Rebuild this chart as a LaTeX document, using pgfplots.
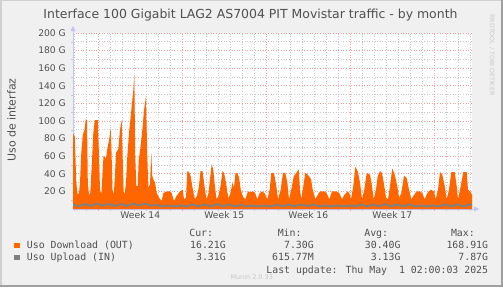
\documentclass[border=0pt]{standalone}
\usepackage{pgfplots}
\pgfplotsset{compat=1.18}
\usepackage{fontspec}
\setmainfont{DejaVu Sans}
\newfontfamily\monofont{DejaVu Sans Mono}
\usetikzlibrary{arrows.meta}
\definecolor{bgc}{HTML}{F0F0F0}
\definecolor{txt}{HTML}{505050}
\definecolor{dl}{HTML}{FF6600}
\definecolor{ul}{HTML}{808080}
\definecolor{gridgrey}{HTML}{C8C8C8}
\definecolor{gridred}{HTML}{F4A0A0}
\definecolor{axisblue}{HTML}{C4C4F4}
\definecolor{faint}{HTML}{C8C8C8}
\definecolor{bordl}{HTML}{D0D0D0}
\definecolor{bordd}{HTML}{A0A0A0}

\begin{document}
\begin{tikzpicture}[x=1bp,y=1bp]
\fill[bgc] (0,0) rectangle (503,287);
\fill[bordl] (0,0) rectangle (1.5,287);
\fill[bordl] (0,285.5) rectangle (503,287);
\fill[bordd] (501,0) rectangle (503,287);
\fill[bordd] (0,0) rectangle (503,2);

\begin{axis}[
  at={(73bp,78bp)}, anchor=south west,
  width=399bp, height=176bp, scale only axis,
  xmin=73, xmax=472, ymin=0, ymax=200,
  axis background/.style={fill=white},
  axis x line*=bottom, axis y line*=left,
  x axis line style={axisblue, line width=0.8bp, -{Triangle[length=5bp,width=5bp]}, shorten >=-7bp},
  y axis line style={axisblue, line width=0.8bp, -{Triangle[length=5bp,width=5bp]}, shorten >=-7bp},
  xtick={140.3,224.3,308.3,392.3},
  xticklabels={Week 14,Week 15,Week 16,Week 17},
  extra x ticks={98.3,182.3,266.3,350.3,434.3},
  extra x tick labels={},
  extra x tick style={xmajorgrids=true, major tick length=2bp, major tick style={gridred}},
  minor xtick={74.3,86.3,110.3,122.3,134.3,146.3,158.3,170.3,194.3,206.3,218.3,230.3,242.3,254.3,278.3,290.3,302.3,314.3,326.3,338.3,362.3,374.3,386.3,398.3,410.3,422.3,446.3,458.3,470.3},
  ytick={20,40,...,200},
  yticklabels={20 G,40 G,60 G,80 G,100 G,120 G,140 G,160 G,180 G,200 G},
  minor ytick={10,30,...,190},
  xmajorgrids=false, xminorgrids=true, ymajorgrids=true, yminorgrids=true,
  major grid style={gridred, dash pattern=on 1bp off 1.6bp, line width=0.7bp},
  minor grid style={gridgrey, dash pattern=on 1bp off 1.6bp, line width=0.7bp},
  tick align=outside,
  major tick length=0bp, minor tick length=2bp,
  minor tick style={gridgrey},
  tick label style={font=\fontsize{9.2}{10}\selectfont, text=txt},
  yticklabel style={anchor=east, inner sep=0pt, xshift=-7bp},
  xticklabel style={anchor=north, inner sep=0pt, yshift=-2.5bp},
]
\addplot[fill=dl, draw=none] coordinates {
(73,86) (74.8,82) (76.3,30) (77.5,17) (79,18) (80,30) (81.2,62) (82.8,84) (84.5,90) (85.8,102) (87,101) (87.8,30) (89,16)
(90.3,18) (91.8,50) (93.3,86) (94.8,101) (97.8,101) (99,60) (100,22) (101.3,16)
(102.5,40) (103.5,60) (106,58) (107.3,68) (109.3,80) (110.7,92) (111.6,62) (112.5,22) (113.8,16)
(115,40) (116,64) (118.3,68) (120,90) (121.7,101) (122.6,62) (123.6,20) (124.6,16)
(126,30) (127.3,60) (129.3,90) (130.7,105) (132,120) (133.3,135) (134.3,152) (135.2,62) (136.3,26) (137.7,26)
(138.7,55) (140.7,72) (142.7,94) (144,112) (146,128) (147.2,62) (148.4,24) (150,28)
(151.3,64) (152.2,38) (153.3,34) (155,30) (156.7,18) (159.3,12.5) (161.7,9) (163.3,18) (166.7,20) (170,20) (171.7,18) (174,9) (176.7,15) (180,20) (182.7,22)
(184,11) (186,13) (187.3,43) (189,42) (190.5,38) (192,28) (193.5,18) (195,11) (197,15) (199,26) (200.5,43) (202.5,43) (204,30) (205.5,18) (206.5,11)
(208.5,18) (210,34) (211.7,51) (213.3,44) (214.5,30) (216.5,11) (218.5,15) (220.5,26) (222.5,43) (224,41) (226,30) (227.5,18) (228.5,12)
(230.5,18) (232.5,30) (234,24) (235.5,41) (237.5,40) (239,36) (240.7,22) (243,14) (245.3,11) (248,20) (250.7,19) (253,20) (255.3,18) (257.3,11)
(259.7,18) (262,20) (264.7,18) (267.3,11)
(269.7,22) (271.3,41) (274,41) (276.3,26) (278,11) (280.7,22) (283,41) (285.3,41) (287.3,30) (289,11) (291.3,22) (293.7,37) (296.3,41) (298.7,45) (300,22) (301.3,11)
(303.3,26) (305.3,41) (307.7,39) (311,34) (312.7,22) (315.3,11) (317.7,16) (320,20) (324.3,20) (326.7,18) (329.3,11) (332,20) (336,20) (339.3,18) (342,11) (344.3,16) (347.7,20) (349.3,18) (351,11)
(353.3,26) (355.3,48) (357.7,43) (360,30) (362,11) (364.3,22) (366.7,41) (370,39) (372,26) (373.7,11) (376,22) (377.7,37) (380,43) (382,41) (384.3,26) (386,13) (388,11)
(390,26) (392.3,46) (394.7,39) (397.3,26) (399,12.5) (401.3,18) (404,38) (406.7,35) (409,22) (411.3,11) (414,16) (416.7,20) (420,20) (422.3,18) (424.7,11) (427.3,18) (430.7,22) (434,20) (435.7,11)
(438,22) (440,42) (442.3,39) (444.7,26) (446.7,11) (449,22) (451.3,42) (454.7,42) (456.7,26) (458,11) (460.7,26) (463.3,42) (466.7,42) (468,22) (470,20) (472,16)
} \closedcycle;
\addplot[ul, line width=2bp] coordinates {
(73,5) (79,3.5) (85,5.5) (91,3.5) (97,6) (103,4) (109,5.5) (115,3.5) (121,5.5) (127,3.5) (133,6) (139,4) (145,6) (151,4) (157,4.5) (163,3) (169,4) (175,3) (181,4) (187,3) (193,5) (199,3) (205,5) (211,3) (217,5.5) (223,3) (229,5) (235,3) (241,4.5) (247,3) (253,4) (259,3) (265,4) (271,3) (277,5) (283,3) (289,5) (295,3) (301,5) (307,3.5) (313,5) (319,3) (325,4) (331,3) (337,4) (343,3) (349,4) (355,3) (361,5) (367,3) (373,5) (379,3) (385,5.5) (391,3) (397,5) (403,3) (409,5) (415,3) (421,4) (427,3) (433,4) (439,3) (445,5) (451,3) (457,5) (463,3) (469,5) (472,4.3)
};
\end{axis}

\node[anchor=base, font=\fontsize{12.5}{14}\selectfont, text=txt] at (250.5,269) {Interface 100 Gigabit LAG2 AS7004 PIT Movistar traffic - by month};
\node[rotate=90, font=\fontsize{11}{13}\selectfont, text=txt] at (11.5,167) {Uso de interfaz};
\node[rotate=-90, font=\fontsize{6.3}{7}\selectfont, text=faint] at (492,232) {RRDTOOL / TOBI OETIKER};

\begin{scope}[every node/.style={font=\monofont\fontsize{9.9}{11}\selectfont, text=txt, inner sep=0pt}]
\node[anchor=base east] at (213.3,50.3) {Cur:};
\node[anchor=base east] at (301.7,50.3) {Min:};
\node[anchor=base east] at (388.3,50.3) {Avg:};
\node[anchor=base east] at (475,50.3) {Max:};
\node[anchor=base west] at (26.7,38.3) {Uso Download (OUT)};
\node[anchor=base east] at (226,38.3) {16.21G};
\node[anchor=base east] at (314,38.3) {7.30G};
\node[anchor=base east] at (400.7,38.3) {30.40G};
\node[anchor=base east] at (488.3,38.3) {168.91G};
\node[anchor=base west] at (26.7,26.3) {Uso Upload (IN)};
\node[anchor=base east] at (226,26.3) {3.31G};
\node[anchor=base east] at (314,26.3) {615.77M};
\node[anchor=base east] at (400.7,26.3) {3.13G};
\node[anchor=base east] at (488.3,26.3) {7.87G};
\node[anchor=base east] at (488.3,14) {Last update: Thu May\ \ 1 02:00:03 2025};
\end{scope}
\fill[dl] (14,38.7) rectangle (19.5,44.3);
\fill[ul] (14,26.7) rectangle (19.5,32.3);
\node[anchor=base, font=\fontsize{6.5}{7}\selectfont, text=faint, inner sep=0pt] at (251.7,8) {Munin 2.0.33};
\end{tikzpicture}
\end{document}
